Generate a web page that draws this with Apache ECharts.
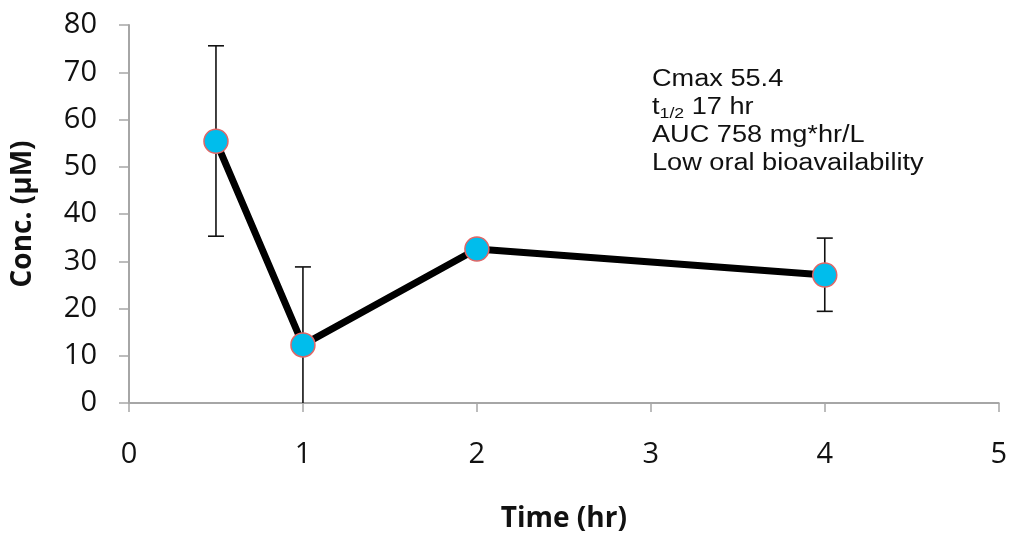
<!DOCTYPE html>
<html>
<head>
<meta charset="utf-8">
<script src="https://cdn.jsdelivr.net/npm/echarts@6/dist/echarts.min.js"></script>
<style>
  html, body { margin: 0; padding: 0; background: #fff; }
  #chart { width: 1010px; height: 538px; }
</style>
</head>
<body>
<div id="chart"></div>
<script>
var times = [0.5, 1, 2, 4];
var conc = [55.4, 12.3, 32.6, 27.1];
var err_low = [35.3, 0, 32.6, 19.4];
var err_high = [75.6, 28.8, 32.6, 34.9];
var x_ticks = [0, 1, 2, 3, 4, 5];
var y_ticks = [0, 10, 20, 30, 40, 50, 60, 70, 80];

(function() {
    var axis_gray = '#a6a6a6';
    var label_font = '"Open Sans", Lato, sans-serif';
    var note_font = '"Liberation Sans", Arial, sans-serif';

    var line_data = times.map(function(t, i) { return [t, conc[i]]; });
    var err_data = times.map(function(t, i) { return [t, err_low[i], err_high[i]]; });

    // error bars with caps
    function render_err(params, api) {
        var x = api.value(0);
        var lo = api.coord([x, api.value(1)]);
        var hi = api.coord([x, api.value(2)]);
        if (Math.abs(lo[1] - hi[1]) < 1) return null;
        var cap = 8;
        var style = { stroke: '#111', lineWidth: 1.6 };
        var kids = [
            { type: 'line', shape: { x1: lo[0], y1: lo[1], x2: hi[0], y2: hi[1] }, style: style },
            { type: 'line', shape: { x1: hi[0] - cap, y1: hi[1], x2: hi[0] + cap, y2: hi[1] }, style: style }
        ];
        if (api.value(1) > 0) {
            kids.push({ type: 'line', shape: { x1: lo[0] - cap, y1: lo[1], x2: lo[0] + cap, y2: lo[1] }, style: style });
        }
        return { type: 'group', children: kids };
    }

    var option = {
        animation: false,
        backgroundColor: '#ffffff',
        grid: { left: 129, right: 7, top: 25, bottom: 135 },
        xAxis: {
            type: 'value',
            min: x_ticks[0],
            max: x_ticks[x_ticks.length - 1],
            interval: 1,
            name: 'Time (hr)',
            nameLocation: 'middle',
            nameGap: 102,
            nameTextStyle: { fontFamily: label_font, fontWeight: 'bold', fontSize: 28, color: '#111' },
            axisLine: { show: true, onZero: false, lineStyle: { color: axis_gray, width: 2 } },
            axisTick: { show: true, length: 9, lineStyle: { color: axis_gray, width: 1.5 } },
            axisLabel: { margin: 37, fontFamily: label_font, fontSize: 29, color: '#111' },
            splitLine: { show: false }
        },
        yAxis: {
            type: 'value',
            min: y_ticks[0],
            max: y_ticks[y_ticks.length - 1],
            interval: 10,
            name: 'Conc. (µM)',
            nameLocation: 'middle',
            nameGap: 92,
            nameTextStyle: { fontFamily: label_font, fontWeight: 'bold', fontSize: 28, color: '#111' },
            axisLine: { show: true, lineStyle: { color: axis_gray, width: 2 } },
            axisTick: { show: true, length: 10, lineStyle: { color: axis_gray, width: 1.5 } },
            axisLabel: { margin: 32, fontFamily: label_font, fontSize: 29, color: '#111' },
            splitLine: { show: false }
        },
        graphic: [{
            type: 'text',
            x: 652,
            y: 66,
            scaleX: 1.18,
            style: {
                text: 'Cmax 55.4\n{t|t}{s|1/2}{t| 17 hr}\nAUC 758 mg*hr/L\nLow oral bioavailability',
                font: '23px ' + note_font,
                fill: '#111',
                lineHeight: 28,
                rich: {
                    t: { fontFamily: note_font, fontSize: 23, lineHeight: 28, fill: '#111' },
                    s: { fontFamily: note_font, fontSize: 15, lineHeight: 28, padding: [11, 0, 0, 0], fill: '#111' }
                }
            }
        }],
        series: [
            {
                type: 'custom',
                renderItem: render_err,
                data: err_data,
                encode: { x: 0, y: [1, 2] },
                z: 1
            },
            {
                type: 'line',
                data: line_data,
                symbol: 'circle',
                symbolSize: 24,
                lineStyle: { color: '#000', width: 7 },
                itemStyle: { color: '#00bdec', borderColor: '#e06666', borderWidth: 1.5 },
                z: 3
            }
        ]
    };
    var my_chart = echarts.init(document.getElementById('chart'));
    my_chart.setOption(option);
})();
</script>
</body>
</html>
